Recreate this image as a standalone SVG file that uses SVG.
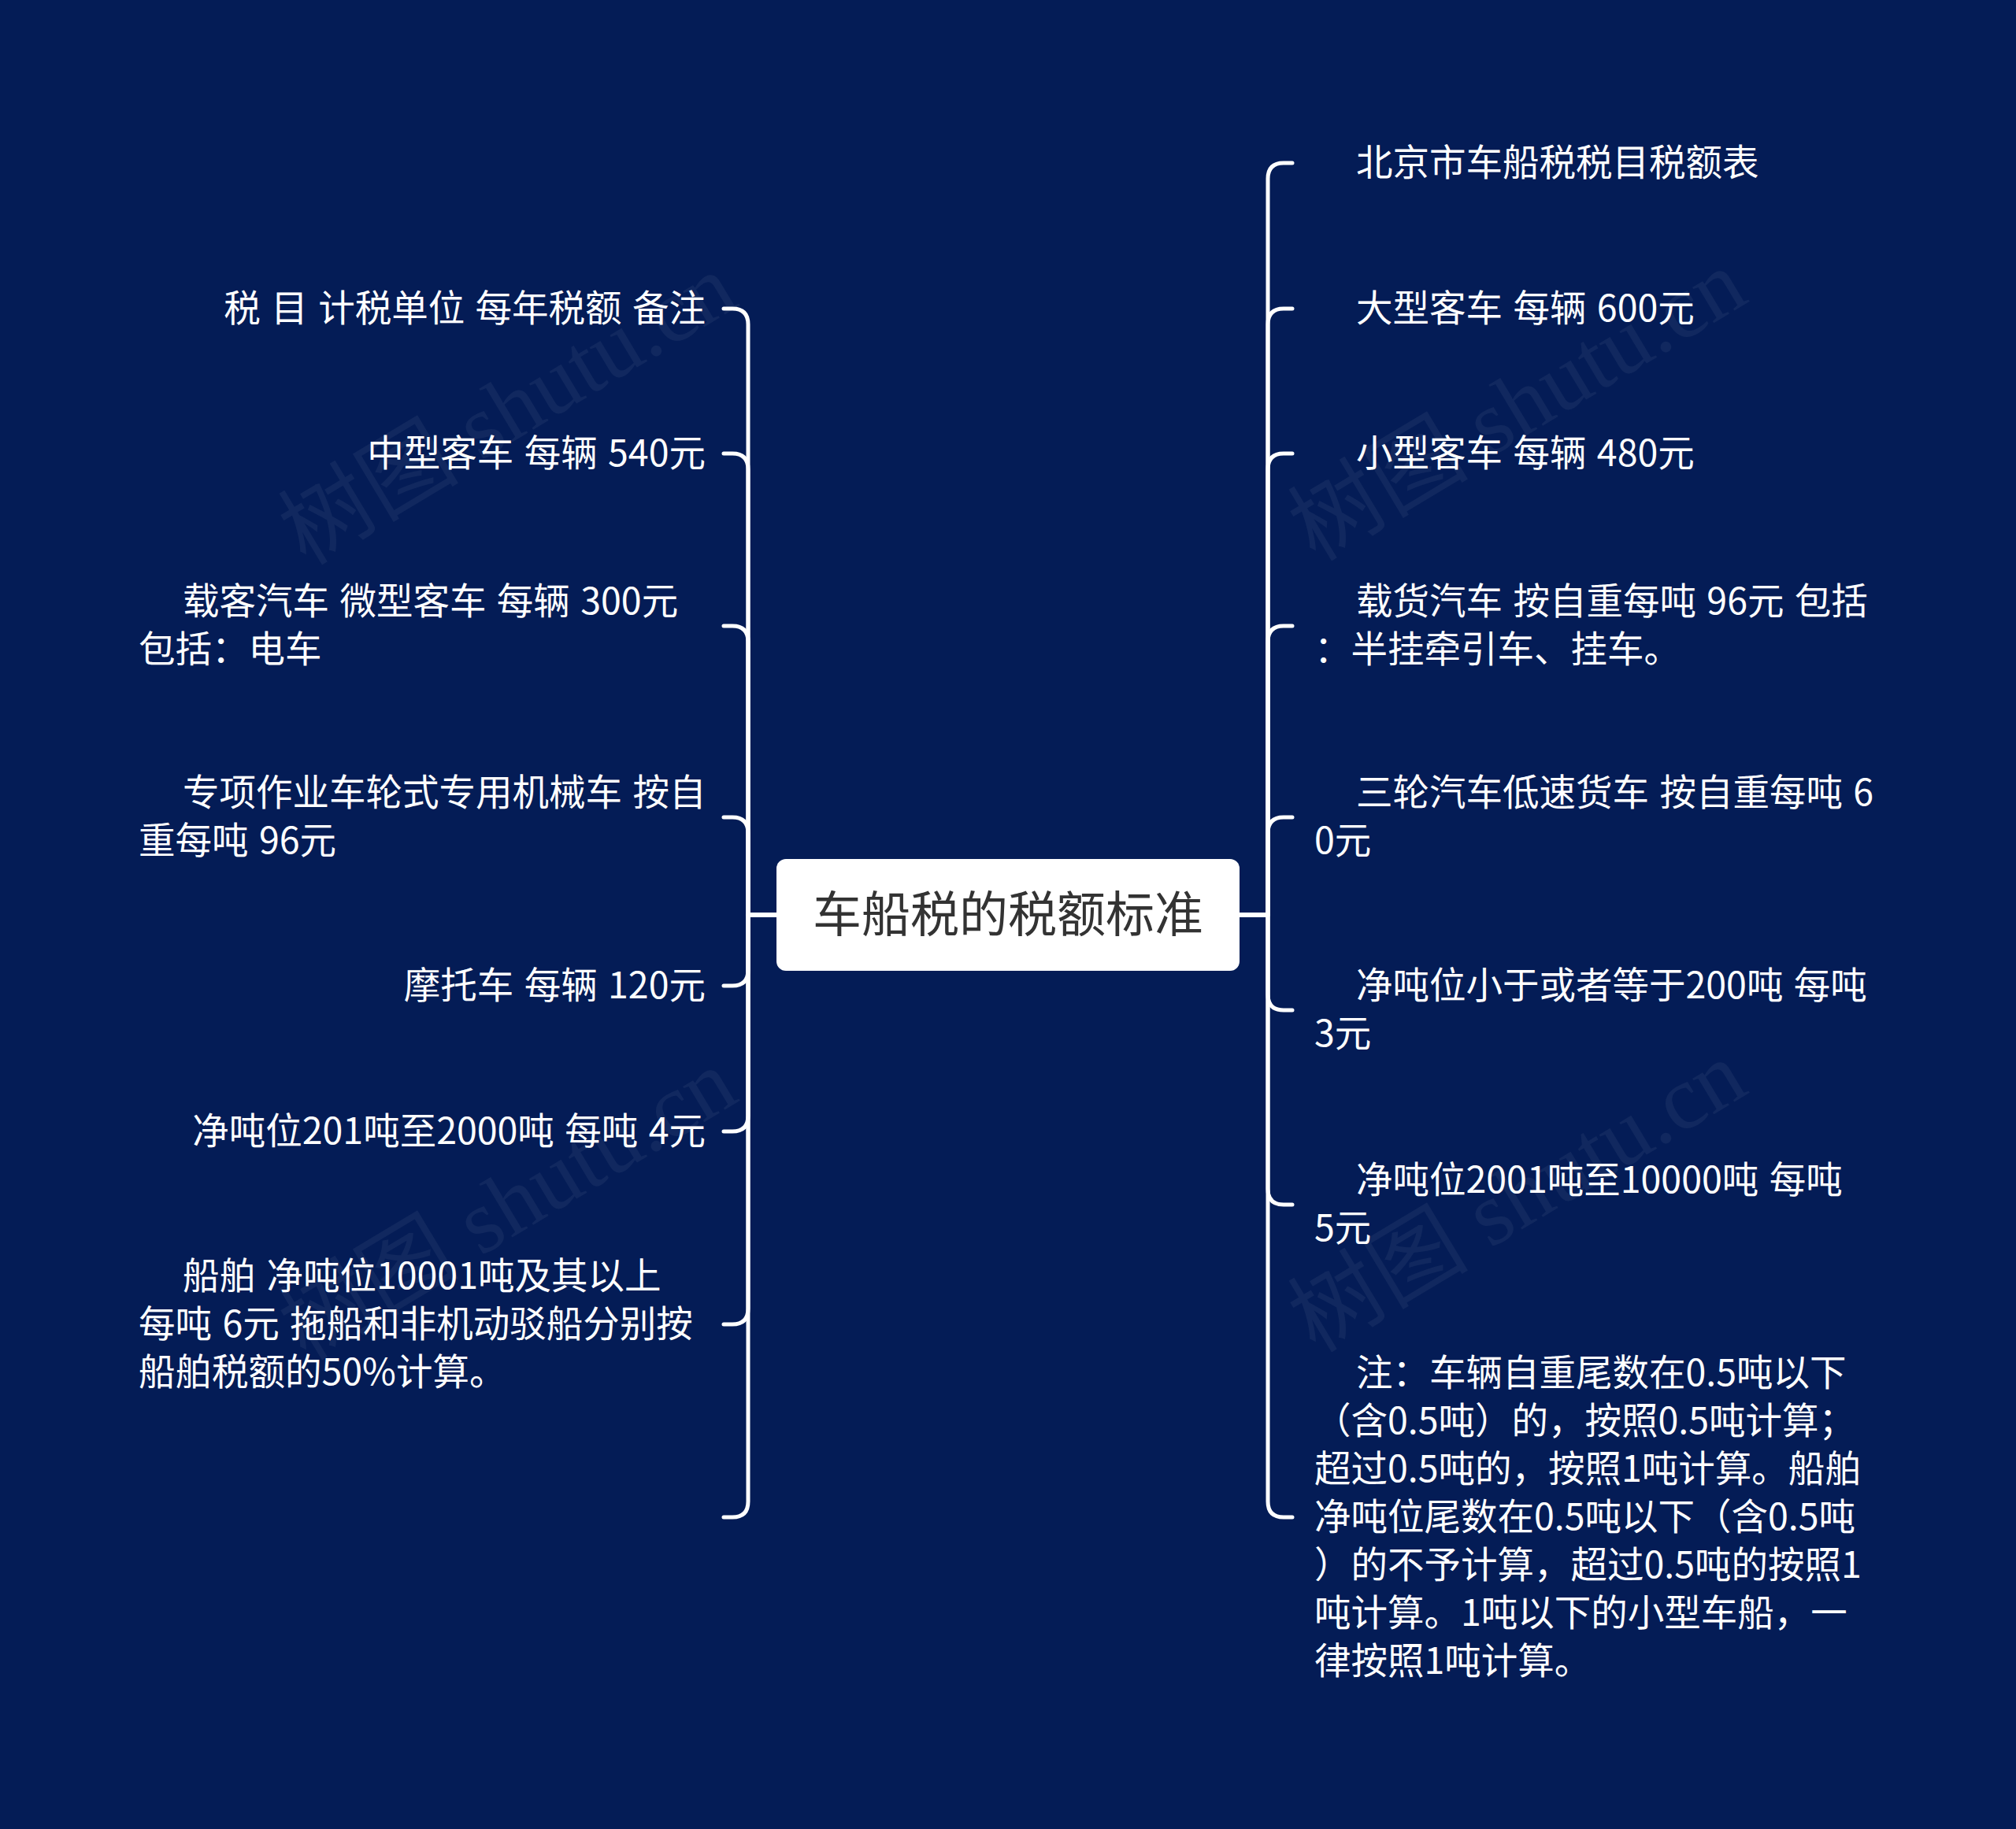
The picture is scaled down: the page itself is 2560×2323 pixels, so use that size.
<svg xmlns="http://www.w3.org/2000/svg" width="2560" height="2323" viewBox="0 0 2560 2323">
<defs>
<style>
.bg{fill:#041c56}
.conn path{fill:none;stroke:#ffffff;stroke-width:5;stroke-linecap:round;stroke-linejoin:round}
.t{font-family:"Noto Sans CJK SC","Noto Sans",sans-serif;font-size:46.5px;word-spacing:3px;fill:#ffffff}
.ct{font-family:"Noto Sans CJK SC","Noto Sans",sans-serif;font-size:62px;fill:#333333}
.wm{font-family:"Liberation Serif","Noto Sans CJK SC",serif;font-size:115px;fill:#ffffff;fill-opacity:0.055}
</style>
</defs>
<rect class="bg" x="0" y="0" width="2560" height="2323"/>
<g id="watermarks">
<text class="wm" transform="translate(645,520) rotate(-31)" text-anchor="middle" dominant-baseline="central">树图 shutu.cn</text>
<text class="wm" transform="translate(1927,515) rotate(-31)" text-anchor="middle" dominant-baseline="central">树图 shutu.cn</text>
<text class="wm" transform="translate(645,1530) rotate(-31)" text-anchor="middle" dominant-baseline="central">树图 shutu.cn</text>
<text class="wm" transform="translate(1927,1520) rotate(-31)" text-anchor="middle" dominant-baseline="central">树图 shutu.cn</text>
</g>
<g id="connectors" class="conn">
<path d="M986 1162 H950 V412 Q950 392 930 392 H919"/>
<path d="M986 1162 H950 V596 Q950 576 930 576 H919"/>
<path d="M986 1162 H950 V815 Q950 795 930 795 H919"/>
<path d="M986 1162 H950 V1058 Q950 1038 930 1038 H919"/>
<path d="M986 1162 H950 V1232 Q950 1252 930 1252 H919"/>
<path d="M986 1162 H950 V1417 Q950 1437 930 1437 H919"/>
<path d="M986 1162 H950 V1662 Q950 1682 930 1682 H919"/>
<path d="M986 1162 H950 V1907 Q950 1927 930 1927 H919"/>
<path d="M1574 1162 H1610 V227 Q1610 207 1630 207 H1641"/>
<path d="M1574 1162 H1610 V412 Q1610 392 1630 392 H1641"/>
<path d="M1574 1162 H1610 V596 Q1610 576 1630 576 H1641"/>
<path d="M1574 1162 H1610 V815 Q1610 795 1630 795 H1641"/>
<path d="M1574 1162 H1610 V1058 Q1610 1038 1630 1038 H1641"/>
<path d="M1574 1162 H1610 V1263 Q1610 1283 1630 1283 H1641"/>
<path d="M1574 1162 H1610 V1510 Q1610 1530 1630 1530 H1641"/>
<path d="M1574 1162 H1610 V1907 Q1610 1927 1630 1927 H1641"/>
</g>
<g id="root">
<rect x="986" y="1091" width="588" height="142" rx="12" ry="12" fill="#ffffff"/>
<text class="ct" x="1280" y="1184" text-anchor="middle">车船税的税额标准</text>
</g>
<g id="L1"><text class="t" x="896" y="408" text-anchor="end">税 目 计税单位 每年税额 备注</text></g>
<g id="L2"><text class="t" x="896" y="592" text-anchor="end">中型客车 每辆 540元</text></g>
<g id="L3"><text class="t"><tspan x="232" y="780">载客汽车 微型客车 每辆 300元</tspan><tspan x="176" y="841">包括：电车</tspan></text></g>
<g id="L4"><text class="t"><tspan x="232" y="1023">专项作业车轮式专用机械车 按自</tspan><tspan x="176" y="1084">重每吨 96元</tspan></text></g>
<g id="L5"><text class="t" x="896" y="1268" text-anchor="end">摩托车 每辆 120元</text></g>
<g id="L6"><text class="t" x="896" y="1453" text-anchor="end">净吨位201吨至2000吨 每吨 4元</text></g>
<g id="L7"><text class="t"><tspan x="232" y="1637">船舶 净吨位10001吨及其以上</tspan><tspan x="176" y="1698">每吨 6元 拖船和非机动驳船分别按</tspan><tspan x="176" y="1759">船舶税额的50%计算。</tspan></text></g>
<g id="L8"></g>
<g id="R1"><text class="t" x="1722" y="223">北京市车船税税目税额表</text></g>
<g id="R2"><text class="t" x="1722" y="408">大型客车 每辆 600元</text></g>
<g id="R3"><text class="t" x="1722" y="592">小型客车 每辆 480元</text></g>
<g id="R4"><text class="t"><tspan x="1722" y="780">载货汽车 按自重每吨 96元 包括</tspan><tspan x="1669" y="841">：半挂牵引车、挂车。</tspan></text></g>
<g id="R5"><text class="t"><tspan x="1722" y="1023">三轮汽车低速货车 按自重每吨 6</tspan><tspan x="1669" y="1084">0元</tspan></text></g>
<g id="R6"><text class="t"><tspan x="1722" y="1268">净吨位小于或者等于200吨 每吨</tspan><tspan x="1669" y="1329">3元</tspan></text></g>
<g id="R7"><text class="t"><tspan x="1722" y="1515">净吨位2001吨至10000吨 每吨</tspan><tspan x="1669" y="1576">5元</tspan></text></g>
<g id="R8"><text class="t"><tspan x="1722" y="1760">注：车辆自重尾数在0.5吨以下</tspan><tspan x="1669" y="1821">（含0.5吨）的，按照0.5吨计算；</tspan><tspan x="1669" y="1882">超过0.5吨的，按照1吨计算。船舶</tspan><tspan x="1669" y="1943">净吨位尾数在0.5吨以下（含0.5吨</tspan><tspan x="1669" y="2004">）的不予计算，超过0.5吨的按照1</tspan><tspan x="1669" y="2065">吨计算。1吨以下的小型车船，一</tspan><tspan x="1669" y="2126">律按照1吨计算。</tspan></text></g>
</svg>
